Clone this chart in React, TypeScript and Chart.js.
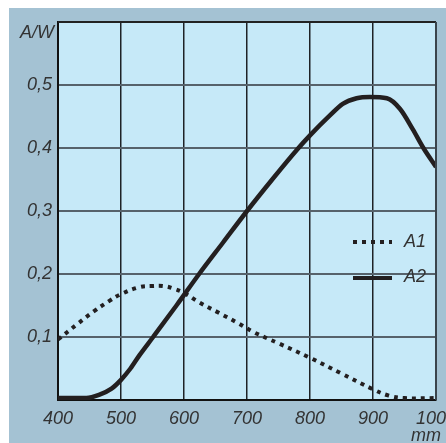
import React, { useEffect, useRef } from "react";
import { Chart, registerables } from "chart.js";
Chart.register(...registerables);

const wavelengthsA1 = [400, 430, 456, 481, 500, 529, 550, 567, 583, 600, 624, 656, 686, 710, 750, 800, 850, 900, 925, 950, 1000];
const valuesA1 = [0.096, 0.12, 0.14, 0.157, 0.168, 0.179, 0.181, 0.181, 0.177, 0.17, 0.155, 0.138, 0.122, 0.108, 0.09, 0.067, 0.042, 0.017, 0.007, 0.003, 0.003];
const wavelengthsA2 = [400, 445, 465, 485, 500, 515, 530, 551, 588, 624, 662, 700, 740, 780, 800, 832, 852, 874, 895, 922, 943, 963, 980, 1000];
const valuesA2 = [0.003, 0.003, 0.008, 0.018, 0.032, 0.05, 0.072, 0.1, 0.15, 0.2, 0.25, 0.3, 0.35, 0.398, 0.42, 0.452, 0.47, 0.479, 0.481, 0.479, 0.462, 0.43, 0.4, 0.37];
const seriesNames = ["A1", "A2"];
const yUnit = "A/W";
const xUnit = "mm";

const FONT = "'Liberation Sans', Arial, sans-serif";
const TEXT = "#333333";
const INK = "#231f20";

export default function App() {
  const ref = useRef<HTMLCanvasElement>(null);
  useEffect(() => {
    const canvas = ref.current!;
    const bgPlugin = {
      id: "bg",
      beforeDraw(chart: any) {
        const { ctx, chartArea: a } = chart;
        ctx.save();
        ctx.fillStyle = "#ffffff";
        ctx.fillRect(0, 0, chart.width, chart.height);
        ctx.fillStyle = "#a4c2d3";
        ctx.fillRect(9, 8, chart.width - 9, chart.height - 8);
        ctx.fillStyle = "#c6e9f8";
        ctx.fillRect(a.left, a.top, a.right - a.left, a.bottom - a.top);
        ctx.restore();
      },
      afterDraw(chart: any) {
        const { ctx, chartArea: a } = chart;
        ctx.save();
        ctx.strokeStyle = "#222";
        ctx.lineWidth = 2;
        ctx.beginPath();
        ctx.moveTo(a.left, a.top);
        ctx.lineTo(a.right, a.top);
        ctx.stroke();
        ctx.strokeStyle = "#3a444c";
        ctx.beginPath();
        ctx.moveTo(a.right, a.top);
        ctx.lineTo(a.right, a.bottom);
        ctx.stroke();
        ctx.font = `italic 18px ${FONT}`;
        ctx.fillStyle = TEXT;
        ctx.textAlign = "right";
        ctx.textBaseline = "middle";
        ctx.fillText(yUnit, 54, 33);
        ctx.fillText(xUnit, 441, 436);
        // legend
        const lx0 = 353, lx1 = 392;
        const ys = [242, 278];
        ctx.strokeStyle = INK;
        ctx.lineWidth = 4;
        ctx.lineCap = "butt";
        ctx.setLineDash([4, 5]);
        ctx.beginPath();
        ctx.moveTo(lx0, ys[0]);
        ctx.lineTo(lx1, ys[0]);
        ctx.stroke();
        ctx.setLineDash([]);
        ctx.beginPath();
        ctx.moveTo(lx0, ys[1]);
        ctx.lineTo(lx1, ys[1]);
        ctx.stroke();
        ctx.textAlign = "left";
        ctx.fillText(seriesNames[0], 404, ys[0]);
        ctx.fillText(seriesNames[1], 404, ys[1] - 1);
        ctx.restore();
      },
    };
    const chart = new Chart(canvas, {
      type: "line",
      data: {
        datasets: [
          {
            label: seriesNames[0],
            data: wavelengthsA1.map((x, i) => ({ x, y: valuesA1[i] })),
            borderColor: INK,
            borderWidth: 4,
            borderDash: [4, 5],
            borderCapStyle: "butt",
            pointRadius: 0,
            tension: 0.4,
            fill: false,
          },
          {
            label: seriesNames[1],
            data: wavelengthsA2.map((x, i) => ({ x, y: valuesA2[i] })),
            borderColor: INK,
            borderWidth: 4.5,
            pointRadius: 0,
            cubicInterpolationMode: "monotone",
            fill: false,
          },
        ],
      },
      options: {
        responsive: false,
        animation: false,
        layout: { padding: { left: 0, top: 22, right: 10, bottom: 0 } },
        plugins: { legend: { display: false }, tooltip: { enabled: false } },
        scales: {
          x: {
            type: "linear",
            min: 400,
            max: 1000,
            ticks: {
              stepSize: 100,
              padding: 8,
              color: TEXT,
              font: { family: FONT, size: 18, style: "italic" },
              maxRotation: 0,
              autoSkip: false,
              callback: (v: any) => String(v),
            },
            grid: { color: "#1e2226", lineWidth: 1.5, drawTicks: false },
            border: { display: true, color: "#111", width: 2 },
            afterFit: (s: any) => {
              s.height = 43;
              s.paddingLeft = 0;
              s.paddingRight = 0;
            },
          },
          y: {
            min: 0,
            max: 0.6,
            ticks: {
              stepSize: 0.1,
              padding: 6,
              color: TEXT,
              font: { family: FONT, size: 18, style: "italic" },
              callback: (v: any) => (v < 0.05 || v > 0.55 ? "" : Number(v).toFixed(1).replace(".", ",")),
            },
            grid: { color: "#56626b", lineWidth: 2, drawTicks: false },
            border: { display: true, color: "#111", width: 2 },
            afterFit: (s: any) => {
              s.width = 58;
              s.paddingTop = 0;
              s.paddingBottom = 0;
            },
          },
        },
      },
      plugins: [bgPlugin],
    } as any);
    return () => chart.destroy();
  }, []);
  return (
    <div style={{ position: "absolute", left: 0, top: 0, width: 446, height: 443 }}>
      <canvas ref={ref} width={446} height={443} style={{ width: 446, height: 443, display: "block" }} />
    </div>
  );
}
